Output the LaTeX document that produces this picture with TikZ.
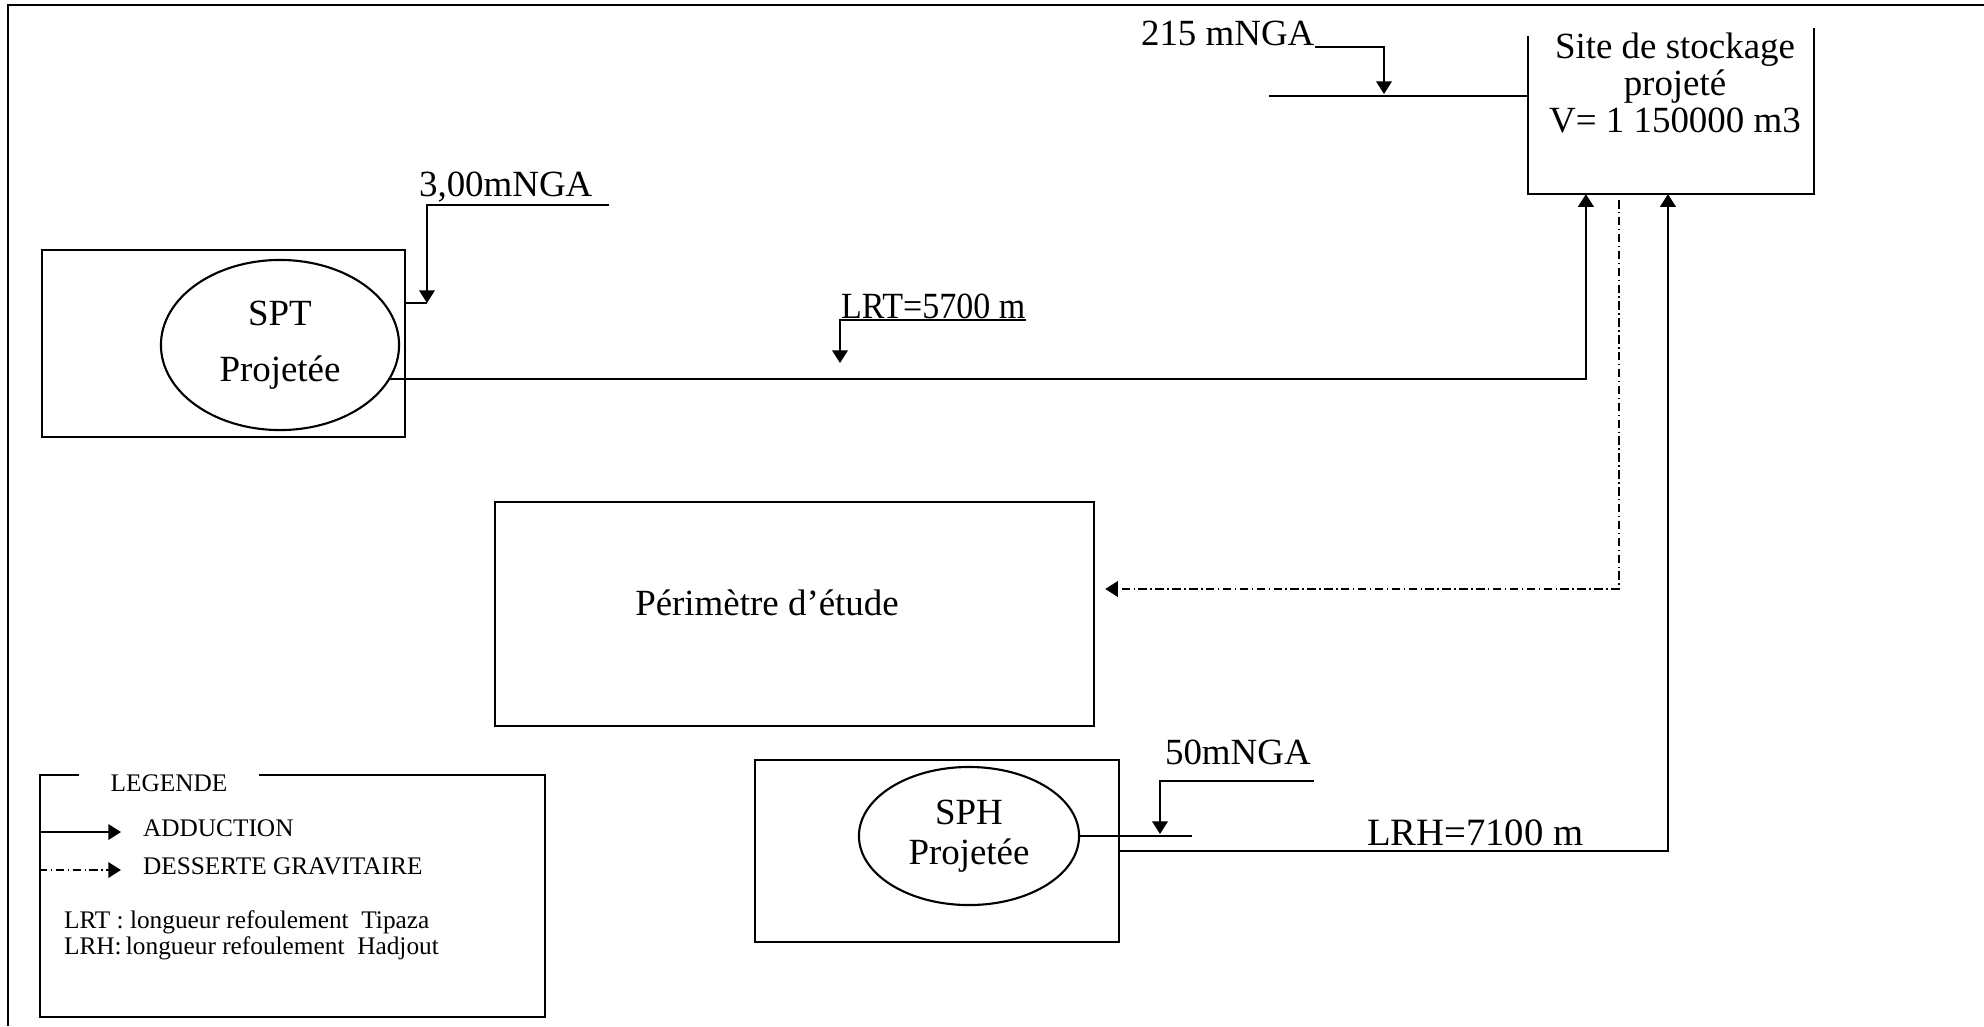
\documentclass[tikz,border=0pt]{standalone}
\usepackage{fontspec}
\setmainfont{Liberation Serif}
\usetikzlibrary{arrows.meta,positioning,shapes.geometric}

\begin{document}
\begin{tikzpicture}[x=0.01cm,y=-0.01cm,line width=0.6pt,every node/.style={font=\fontsize{10.5}{12.6}\selectfont}]
\tikzstyle{boite}=[draw,rectangle,inner sep=0pt]
\tikzstyle{station}=[draw,ellipse,align=center,inner sep=0pt]
\tikzstyle{cote}=[inner sep=0pt]
\tikzstyle{legtxt}=[inner sep=0pt,anchor=west,font=\fontsize{7.2}{8.6}\selectfont]
\tikzstyle{adduction}=[-{Triangle[length=3.6pt,width=4.4pt]}]
\tikzstyle{desserte}=[adduction,dash pattern=on 2.4pt off 1pt on 0.4pt off 1pt]
\useasboundingbox (0,0) rectangle (1984,1026);
% cadre
\draw[line width=0.8pt] (8,1026) -- (8,5) -- (1984,5);
% ouvrages
\node[minimum width=2.84cm,minimum height=1.60cm,inner sep=0pt](site) at (1671,113) {};
\draw ([yshift=-0.04cm]site.north west) -- (site.south west) -- (site.south east) -- ([yshift=0.04cm]site.north east);
\node[align=center,font=\fontsize{10.5}{10.5}\selectfont](sitetxt) at (1675,83) {Site de stockage\\projeté\\V= 1 150000 m3};
\node[boite,minimum width=3.63cm,minimum height=1.87cm](sptbox) at (223.5,343.5) {};
\node[station,minimum width=2.38cm,minimum height=1.70cm,font=\fontsize{10.5}{16}\selectfont](spt) at (280,345) {SPT\\Projetée};
\node[boite,minimum width=5.99cm,minimum height=2.24cm](perim) at (794.5,614) {};
\node(perimtxt) at (767,603) {Périmètre d’étude};
\node[boite,minimum width=3.64cm,minimum height=1.82cm](sphbox) at (937,851) {};
\node[station,minimum width=2.20cm,minimum height=1.38cm,font=\fontsize{10.5}{11.4}\selectfont](sph) at (969,836) {SPH\\Projetée};
% cotes
\node[cote,anchor=south west](n215) at (1140,47) {215 mNGA};
\coordinate (t215) at (1384,94);
\coordinate (lv215) at (1269,96);
\draw (lv215) -- (lv215 -| site.west);
\draw[adduction] (n215.south east) -| (t215);
\node[cote,anchor=base west](n300) at (418,196) {3,00mNGA};
\coordinate (c300) at (609,205);
\coordinate (t300) at (427,303);
\draw (sptbox.east |- t300) -- (t300);
\draw[adduction] (c300) -| (t300);
\node[cote,anchor=south west](n50) at (1164,766) {50mNGA};
\coordinate (c50) at (1314,781);
\coordinate (t50) at (1160,834);
\coordinate (lv50) at (1192,836);
\draw (sph.east) -- (lv50);
\draw[adduction] (c50) -| (t50);
\node[cote,anchor=south west](lrt) at (840,320) {\scalebox{0.92}[1]{LRT=5700 m}};
\coordinate (tlrt) at (840,363);
\draw[adduction] (lrt.south east) -| (tlrt);
\node[cote,anchor=west,font=\fontsize{11}{13}\selectfont](lrh) at (1366,833) {LRH=7100 m};
% conduites
\draw[adduction] (spt.-17) -| ([xshift=0.58cm]site.south west);
\draw[adduction] (sphbox.east) -| ([xshift=1.40cm]site.south west);
\draw[desserte] ([xshift=0.91cm,yshift=-0.06cm]site.south west) |- ([xshift=0.10cm,yshift=0.25cm]perim.east);
% legende
\node[boite,minimum width=5.05cm,minimum height=2.42cm](legende) at (292.5,896) {};
\node[legtxt,anchor=center,fill=white,minimum width=1.79cm,inner ysep=1pt](legtitre) at (169,783) {LEGENDE};
\node[legtxt](adduc) at (142,828) {ADDUCTION};
\node[legtxt](dess) at (142,866) {DESSERTE GRAVITAIRE};
\node[legtxt](lrtleg) at (63,922) {LRT : longueur refoulement~ Tipaza};
\node[legtxt](lrhleg) at (63,948) {LRH:\,longueur refoulement~ Hadjout};
\draw[adduction] ([yshift=-0.04cm]legende.west |- adduc.west) -- ([xshift=-0.21cm,yshift=-0.04cm]adduc.west);
\draw[desserte] ([yshift=-0.04cm]legende.west |- dess.west) -- ([xshift=-0.21cm,yshift=-0.04cm]dess.west);
\end{tikzpicture}
\end{document}
